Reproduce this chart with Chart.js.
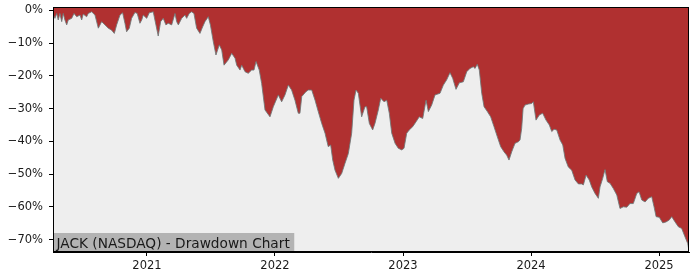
<!DOCTYPE html>
<html>
<head>
<meta charset="utf-8">
<script src="https://cdn.jsdelivr.net/npm/chart.js@4/dist/chart.umd.min.js"></script>
<style>
html,body{margin:0;padding:0;background:#fff;}
#wrap{width:700px;height:280px;position:relative;}
</style>
</head>
<body>
<div id="wrap"><canvas id="c" width="700" height="280"></canvas></div>
<script>
const chartTitle = "JACK (NASDAQ) - Drawdown Chart";

// Dates as decimal years
const years = [
2020.266,2020.268,2020.281,2020.295,2020.307,2020.320,2020.334,2020.346,2020.359,2020.373,
2020.385,2020.412,2020.430,2020.451,2020.477,2020.490,2020.502,2020.529,2020.541,2020.568,
2020.594,2020.620,2020.646,2020.672,2020.698,2020.724,2020.745,2020.763,2020.789,2020.810,
2020.828,2020.841,2020.862,2020.880,2020.906,2020.924,2020.945,2020.959,2020.971,2020.998,
2021.018,2021.049,2021.070,2021.088,2021.107,2021.127,2021.148,2021.166,2021.193,2021.219,
2021.232,2021.245,2021.271,2021.297,2021.310,2021.330,2021.349,2021.367,2021.388,2021.414,
2021.435,2021.453,2021.479,2021.496,2021.518,2021.539,2021.565,2021.584,2021.602,2021.635,
2021.662,2021.688,2021.701,2021.727,2021.740,2021.766,2021.791,2021.818,2021.836,2021.852,
2021.877,2021.896,2021.922,2021.961,2021.987,2022.026,2022.052,2022.078,2022.104,2022.130,
2022.156,2022.182,2022.195,2022.209,2022.242,2022.260,2022.287,2022.313,2022.338,2022.365,
2022.391,2022.416,2022.435,2022.451,2022.469,2022.495,2022.521,2022.547,2022.573,2022.599,
2022.617,2022.633,2022.651,2022.677,2022.703,2022.716,2022.737,2022.763,2022.781,2022.807,
2022.826,2022.852,2022.873,2022.893,2022.912,2022.938,2022.963,2022.990,2023.008,2023.029,
2023.049,2023.076,2023.102,2023.127,2023.154,2023.180,2023.198,2023.224,2023.250,2023.289,
2023.315,2023.341,2023.367,2023.388,2023.414,2023.440,2023.471,2023.498,2023.523,2023.549,
2023.563,2023.580,2023.596,2023.615,2023.633,2023.659,2023.685,2023.711,2023.737,2023.763,
2023.789,2023.810,2023.828,2023.849,2023.875,2023.901,2023.914,2023.927,2023.938,2023.953,
2023.979,2024.005,2024.018,2024.039,2024.065,2024.091,2024.117,2024.143,2024.162,2024.180,
2024.201,2024.227,2024.248,2024.266,2024.291,2024.318,2024.344,2024.370,2024.396,2024.409,
2024.430,2024.455,2024.474,2024.500,2024.526,2024.539,2024.560,2024.578,2024.596,2024.617,
2024.643,2024.670,2024.695,2024.721,2024.748,2024.773,2024.799,2024.826,2024.844,2024.865,
2024.891,2024.916,2024.943,2024.961,2024.977,2025.002,2025.029,2025.055,2025.080,2025.099,
2025.125,2025.151,2025.177,2025.203,2025.224,2025.234
];

// Drawdown in percent
const drawdown = [
-1.5,-1.4,-2.4,-0.9,-2.9,-0.9,-3.4,-0.9,-2.9,-4.4,
-2.9,-2.4,-0.9,-1.9,-1.4,-2.9,-1.1,-1.9,-0.9,-0.4,
-1.4,-5.4,-3.4,-4.4,-5.4,-6.0,-7.0,-4.4,-1.4,-0.7,
-3.9,-6.5,-5.4,-2.4,-0.6,-0.9,-3.9,-2.9,-1.4,-2.4,
-0.7,-0.4,-4.4,-7.8,-3.4,-2.4,-4.4,-3.9,-4.4,-0.9,
-3.4,-4.4,-2.4,-1.4,-2.4,-0.9,-0.4,-0.9,-5.4,-7.0,
-5.0,-3.4,-1.9,-4.5,-9.5,-13.6,-10.5,-12.1,-16.7,-15.1,
-13.1,-14.6,-16.7,-18.2,-16.7,-18.7,-19.2,-18.2,-18.2,-15.6,
-18.2,-22.3,-30.4,-32.5,-29.4,-25.8,-27.9,-25.8,-22.8,-24.3,
-27.4,-31.4,-31.4,-26.3,-24.8,-24.3,-24.3,-27.4,-30.9,-34.5,
-37.5,-41.6,-41.1,-45.7,-48.8,-51.3,-49.8,-46.7,-43.7,-37.5,
-27.4,-24.3,-25.3,-32.5,-29.4,-29.4,-34.5,-36.5,-34.5,-30.4,
-26.8,-27.9,-27.4,-31.4,-37.5,-40.6,-42.1,-42.6,-42.1,-37.5,
-36.5,-35.5,-34.0,-32.5,-33.0,-27.4,-30.9,-28.9,-25.8,-25.3,
-22.8,-21.2,-19.0,-20.7,-24.1,-22.1,-21.8,-18.7,-17.7,-17.2,
-17.7,-16.4,-18.2,-25.3,-29.4,-30.9,-32.5,-35.5,-38.6,-41.6,
-43.2,-44.2,-45.7,-43.2,-40.6,-40.1,-39.6,-36.0,-30.0,-28.9,
-28.6,-28.4,-27.9,-33.5,-31.9,-31.4,-33.5,-35.0,-37.0,-36.3,
-36.5,-39.6,-41.1,-45.2,-47.8,-48.8,-51.8,-53.0,-53.0,-53.3,
-50.3,-51.8,-53.9,-55.9,-57.4,-53.9,-51.3,-48.6,-52.3,-52.8,
-54.4,-56.4,-60.5,-60.0,-60.1,-59.0,-59.0,-55.9,-55.4,-57.9,
-58.5,-57.4,-56.9,-60.0,-63.0,-63.2,-64.9,-64.6,-64.0,-63.0,
-64.6,-66.1,-66.6,-69.2,-71.2,-73.5
];

const xTicks = [2021, 2022, 2023, 2024, 2025];
const yTicks = [0, -10, -20, -30, -40, -50, -60, -70];

const points = years.map((t, i) => ({x: t, y: drawdown[i]}));

const FONT = "'DejaVu Sans', sans-serif";

const bgPlugin = {
  id: 'bg',
  beforeDraw(chart) {
    const {ctx, chartArea: a} = chart;
    ctx.save();
    ctx.fillStyle = '#eeeeee';
    ctx.fillRect(a.left, a.top, a.right - a.left, a.bottom - a.top);
    ctx.restore();
  },
  afterDraw(chart) {
    const {ctx, chartArea: a} = chart;
    ctx.save();
    // label box
    ctx.font = "13.7px " + FONT;
    const w = ctx.measureText(chartTitle).width;
    ctx.fillStyle = '#b3b3b3';
    ctx.fillRect(a.left, a.bottom - 19, w + 8, 19);
    ctx.fillStyle = '#1a1a1a';
    ctx.textBaseline = 'alphabetic';
    ctx.textAlign = 'left';
    ctx.fillText(chartTitle, a.left + 3.5, a.bottom - 4.5);
    // frame
    ctx.strokeStyle = '#000';
    ctx.lineWidth = 1;
    ctx.strokeRect(Math.round(a.left) + 0.5, Math.round(a.top) + 0.5,
                   Math.round(a.right - a.left) - 1, Math.round(a.bottom - a.top) - 1);
    ctx.restore();
  }
};

new Chart(document.getElementById('c'), {
  type: 'line',
  data: {
    datasets: [{
      data: points,
      fill: 'end',
      backgroundColor: '#b03030',
      borderColor: 'rgba(110,120,120,0.85)',
      borderWidth: 1,
      pointRadius: 0,
      tension: 0
    }]
  },
  options: {
    responsive: false,
    animation: false,
    devicePixelRatio: 1,
    layout: {padding: {top: 7, right: 11, left: 0, bottom: 0}},
    plugins: {legend: {display: false}, tooltip: {enabled: false}},
    scales: {
      x: {
        type: 'linear',
        min: 2020.266,
        max: 2025.234,
        afterBuildTicks: s => { s.ticks = xTicks.map(v => ({value: v})); },
        afterFit: s => { s.height = 28; s.paddingLeft = 0; s.paddingRight = 0; },
        ticks: {
          callback: v => String(v),
          color: '#1a1a1a',
          font: {family: FONT, size: 11.5},
          padding: 3,
          maxRotation: 0
        },
        grid: {drawOnChartArea: false, drawTicks: true, tickLength: 4, color: '#000', tickWidth: 1},
        border: {display: true, color: '#000', width: 1}
      },
      y: {
        type: 'linear',
        min: -73.8,
        max: 1.07,
        afterBuildTicks: s => { s.ticks = yTicks.map(v => ({value: v})); },
        afterFit: s => { s.width = 53; s.paddingTop = 0; s.paddingBottom = 0; },
        ticks: {
          callback: v => (v < 0 ? '\u2212' : '') + Math.abs(v) + '%',
          color: '#1a1a1a',
          font: {family: FONT, size: 11.5},
          padding: 6
        },
        grid: {drawOnChartArea: false, drawTicks: true, tickLength: 4, color: '#000', tickWidth: 1},
        border: {display: true, color: '#000', width: 1}
      }
    }
  },
  plugins: [bgPlugin]
});
</script>
</body>
</html>
